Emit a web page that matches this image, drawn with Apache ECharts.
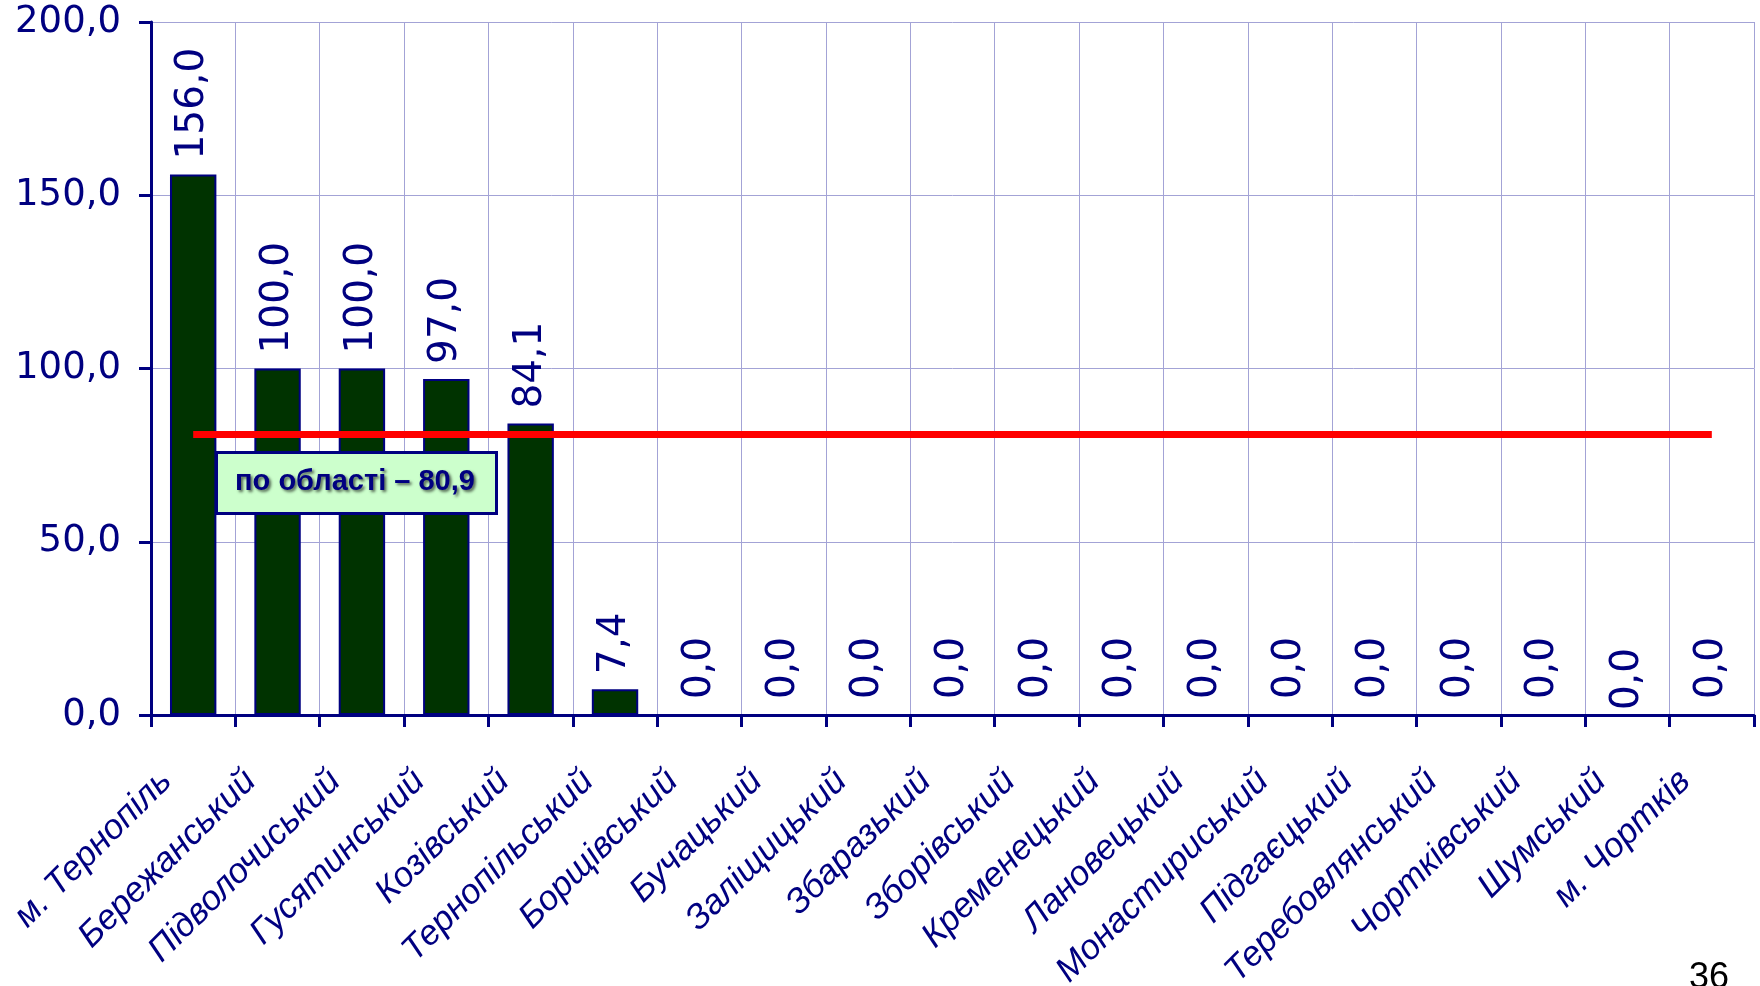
<!DOCTYPE html>
<html>
<head>
<meta charset="utf-8">
<script src="https://cdn.jsdelivr.net/npm/echarts@6/dist/echarts.min.js"></script>
<style>
  html, body { margin: 0; padding: 0; background: #ffffff; }
  #chart { width: 1760px; height: 986px; }
</style>
</head>
<body>
<div id="chart"></div>
<script>
// Districts of Ternopil oblast
const districts = [
  'м. Тернопіль', 'Бережанський', 'Підволочиський', 'Гусятинський', 'Козівський',
  'Тернопільський', 'Борщівський', 'Бучацький', 'Заліщицький', 'Збаразький',
  'Зборівський', 'Кременецький', 'Лановецький', 'Монастириський', 'Підгаєцький',
  'Теребовлянський', 'Чортківський', 'Шумський', 'м. Чортків'
];

// Indicator per district
const values = [156.0, 100.0, 100.0, 97.0, 84.1, 7.4, 0, 0, 0, 0, 0, 0, 0, 0, 0, 0, 0, 0, 0];

// Oblast average
const oblastAverage = 80.9;

// Value axis ticks
const yTicks = [0, 50, 100, 150, 200];

const NAVY = '#000080';
const fmt = v => v.toFixed(1).replace('.', ',');

const chart = echarts.init(document.getElementById('chart'), null, { renderer: 'canvas' });

const barData = values.map((v, i) => {
  const item = { value: v };
  // the Шумський label sits a little lower (offset is along the rotated text)
  if (districts[i] === 'Шумський') item.label = { offset: [-11, 0] };
  return item;
});

chart.setOption({
  backgroundColor: '#ffffff',
  animation: false,
  grid: { left: 151, right: 6, top: 22, bottom: 271, containLabel: false, outerBoundsMode: 'none' },
  xAxis: {
    type: 'category',
    data: districts,
    boundaryGap: true,
    axisLine: { lineStyle: { color: NAVY, width: 3 } },
    axisTick: { show: true, length: 12, lineStyle: { color: NAVY, width: 3 } },
    splitLine: { show: true, interval: 0, lineStyle: { color: '#a3a3d6', width: 1 } },
    axisLabel: {
      interval: 0,
      rotate: 45,
      margin: 34,
      padding: [0, 38, 0, 0],
      color: NAVY,
      fontFamily: 'Liberation Sans, Arial, sans-serif',
      fontStyle: 'italic',
      fontSize: 35
    }
  },
  yAxis: {
    type: 'value',
    min: yTicks[0],
    max: yTicks[yTicks.length - 1],
    interval: yTicks[1] - yTicks[0],
    axisLine: { show: true, lineStyle: { color: NAVY, width: 3 } },
    axisTick: { show: true, length: 12, lineStyle: { color: NAVY, width: 3 } },
    splitLine: { show: true, lineStyle: { color: '#a3a3d6', width: 1 } },
    axisLabel: {
      margin: 30,
      color: NAVY,
      fontFamily: 'DejaVu Sans, Verdana, sans-serif',
      fontSize: 37,
      formatter: v => fmt(v)
    }
  },
  series: [
    {
      type: 'bar',
      data: barData,
      barCategoryGap: '45%',
      itemStyle: { color: '#003300', borderColor: NAVY, borderWidth: 2 },
      label: {
        show: true,
        position: 'top',
        rotate: 90,
        align: 'left',
        verticalAlign: 'middle',
        distance: 15,
        color: NAVY,
        fontFamily: 'DejaVu Sans, Verdana, sans-serif',
        fontSize: 39,
        formatter: p => fmt(p.value)
      },
      markLine: {
        silent: true,
        symbol: ['none', 'none'],
        label: { show: false },
        lineStyle: { color: '#ff0000', width: 7, type: 'solid' },
        data: [[
          { coord: [districts[0], oblastAverage] },
          { coord: [districts[districts.length - 1], oblastAverage] }
        ]]
      }
    }
  ],
  graphic: [
    {
      type: 'rect',
      left: 215,
      top: 451,
      z: 100,
      shape: { width: 280, height: 61 },
      style: { fill: '#ccffcc', stroke: NAVY, lineWidth: 3 }
    },
    {
      type: 'text',
      x: 355,
      y: 482,
      z: 101,
      style: {
        text: 'по області – ' + fmt(oblastAverage),
        fill: NAVY,
        align: 'center',
        verticalAlign: 'middle',
        font: 'bold 29px "Liberation Sans", Arial, sans-serif',
        textShadowColor: 'rgba(0,0,0,0.6)',
        textShadowBlur: 3,
        textShadowOffsetX: 2,
        textShadowOffsetY: 2
      }
    },
    {
      type: 'text',
      left: 1689,
      top: 960,
      style: {
        text: '36',
        fill: '#000000',
        font: '36px "Liberation Sans", Arial, sans-serif'
      }
    }
  ]
});
</script>
</body>
</html>
